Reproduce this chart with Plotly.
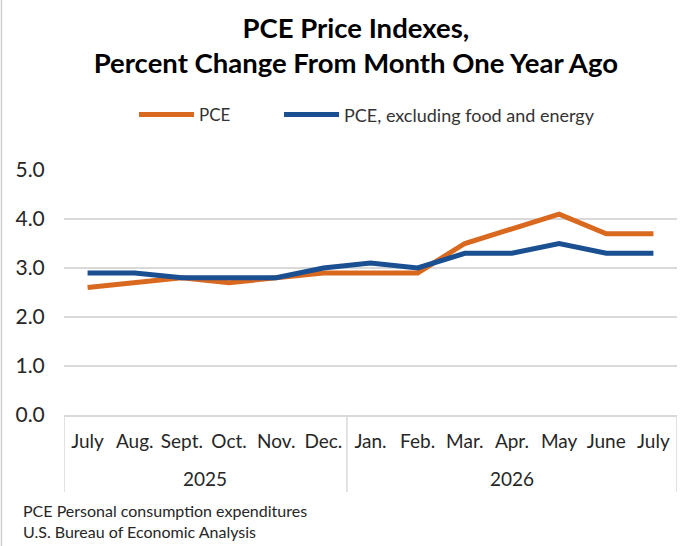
import plotly.graph_objects as go

years = ["2025"] * 6 + ["2026"] * 7
months = ["July", "Aug.", "Sept.", "Oct.", "Nov.", "Dec.",
          "Jan.", "Feb.", "Mar.", "Apr.", "May", "June", "July"]
pce = [2.6, 2.7, 2.8, 2.7, 2.8, 2.9, 2.9, 2.9, 3.5, 3.8, 4.1, 3.7, 3.7]
core = [2.9, 2.9, 2.8, 2.8, 2.8, 3.0, 3.1, 3.0, 3.3, 3.3, 3.5, 3.3, 3.3]
yticks = [0, 1, 2, 3, 4, 5]
ytick_labels = ["0.0", "1.0", "2.0", "3.0", "4.0", "5.0"]

ORANGE = "#D9691F"
BLUE = "#1A4F91"
FONT = "Lato"
GRID = "#D9D9D9"
TXT = "#262626"

xpos = list(range(len(months)))

fig = go.Figure()
fig.add_trace(go.Scatter(x=xpos, y=pce, mode="lines", name="PCE", legend="legend",
                         line=dict(color=ORANGE, width=5)))
fig.add_trace(go.Scatter(x=xpos, y=core, mode="lines", legend="legend2",
                         name="PCE, excluding food and energy",
                         line=dict(color=BLUE, width=5)))

leg_common = dict(orientation="h", yanchor="middle", y=1.225, xanchor="left",
                  itemwidth=55, bgcolor="rgba(0,0,0,0)")
fig.update_layout(
    width=691, height=546,
    margin=dict(l=64, r=14, t=170, b=131),
    paper_bgcolor="white", plot_bgcolor="white",
    font=dict(family=FONT, color=TXT),
    title=dict(text="<b>PCE Price Indexes,<br>Percent Change From Month One Year Ago</b>",
               x=0.515, xanchor="center", y=0.931, yanchor="top",
               font=dict(family=FONT, size=27.5, color="#000000")),
    legend=dict(x=(134 - 64) / 613, font=dict(family=FONT, size=17, color="#333333"),
                **leg_common),
    legend2=dict(x=(279 - 64) / 613, font=dict(family=FONT, size=18, color="#333333"),
                 **leg_common),
    showlegend=True,
)
fig.update_yaxes(range=[0, 5], tickvals=yticks, ticktext=ytick_labels,
                 showgrid=True, gridcolor=GRID, gridwidth=1.5,
                 zeroline=False, showline=False,
                 ticks="outside", ticklen=14, tickcolor="rgba(0,0,0,0)",
                 tickfont=dict(family=FONT, size=21, color=TXT))
fig.update_xaxes(range=[-0.5, len(months) - 0.5], tickvals=xpos, ticktext=months,
                 showline=True, linecolor=GRID, linewidth=1.5,
                 showgrid=False, zeroline=False,
                 ticks="outside", ticklen=8, tickcolor="rgba(0,0,0,0)",
                 tickfont=dict(family=FONT, size=19, color=TXT))

# year groups: labels and dividers derived from the years list
groups = []
for i, yr in enumerate(years):
    if not groups or groups[-1][0] != yr:
        groups.append([yr, i, i])
    else:
        groups[-1][2] = i
for yr, s, e in groups:
    fig.add_annotation(text=yr, xref="x", yref="paper", x=(s + e) / 2, y=-0.261,
                       xanchor="center", yanchor="middle", showarrow=False,
                       font=dict(family=FONT, size=19, color=TXT))
bounds = [groups[0][1] - 0.5] + [e + 0.5 for _, _, e in groups]
for b in bounds:
    fig.add_shape(type="line", xref="x", yref="paper", x0=b, x1=b, y0=0, y1=-0.314,
                  line=dict(color=GRID, width=1.5))

# faint frame edge at the left of the picture
fig.add_shape(type="line", xref="paper", yref="paper", x0=-0.102, x1=-0.102,
              y0=-0.54, y1=1.70, line=dict(color="#D0D0D0", width=1.5))

fig.add_annotation(text="PCE Personal consumption expenditures", xref="paper", yref="paper",
                   x=-0.070, y=-0.39, xanchor="left", yanchor="middle", showarrow=False,
                   font=dict(family=FONT, size=16, color=TXT))
fig.add_annotation(text="U.S. Bureau of Economic Analysis", xref="paper", yref="paper",
                   x=-0.070, y=-0.475, xanchor="left", yanchor="middle", showarrow=False,
                   font=dict(family=FONT, size=16, color=TXT))

fig.write_html("out.html", config={"displayModeBar": False},
               post_script="document.body.style.margin='0';")
